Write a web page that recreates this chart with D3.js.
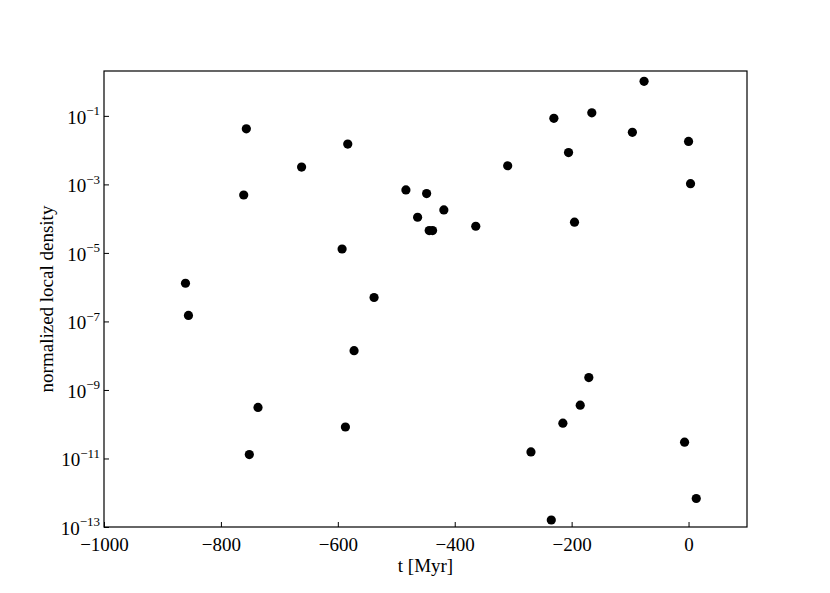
<!DOCTYPE html>
<html lang="en">
<head>
    <meta charset="UTF-8">
    <title>Normalized local density vs time</title>
    <style>
        body { margin: 0; background: #fff; }
        svg text { font-family: "Liberation Serif", "DejaVu Serif", serif; fill: #000; }
    </style>
</head>
<body>
    <div id="chart"></div>
    <script src="https://cdn.jsdelivr.net/npm/d3@7"></script>
    <script>
        // time of each event [Myr]
        const times = [
            -860.6, -855.5, -756.5, -761, -662, -583, -592.7, -538, -483.5, -463.5,
            -448.1, -418.6, -443.7, -437.9, -364, -309.4, -230.4, -165.5, -205.3, -195.1,
            -76.1, -96.1, 0, 3.4, -572.2, -736.5, -587, -751.4, -170.6, -185.3,
            -215, -269.6, -6.8, 13.2, -234.8
        ];
        // normalized local density at that time
        const densities = [
            1.3e-6, 1.5e-7, 4.2e-2, 4.9e-4, 3.2e-3, 1.5e-2, 1.3e-5, 5.0e-7, 6.9e-4, 1.1e-4,
            5.4e-4, 1.8e-4, 4.5e-5, 4.5e-5, 6.0e-5, 3.5e-3, 8.5e-2, 1.23e-1, 8.5e-3, 7.9e-5,
            1.02, 3.3e-2, 1.8e-2, 1.05e-3, 1.4e-8, 3.1e-10, 8.3e-11, 1.3e-11, 2.3e-9, 3.6e-10,
            1.07e-10, 1.55e-11, 3.0e-11, 6.8e-13, 1.6e-13
        ];
        const xTicks = [-1000, -800, -600, -400, -200, 0];
        const yExponents = [-1, -3, -5, -7, -9, -11, -13];

        const width = 830, height = 593;
        const margin = {top: 71, right: 83, bottom: 66, left: 104};

        const x = d3.scaleLinear()
            .domain([-1000, 100])
            .range([margin.left, width - margin.right]);

        const y = d3.scaleLog()
            .domain([1e-13, 2.04])
            .range([height - margin.bottom, margin.top]);

        const svg = d3.select("#chart").append("svg")
            .attr("width", width)
            .attr("height", height);

        const minus = s => String(s).replace("-", "\u2212");

        // bottom axis, ticks pointing inward
        const xAxis = svg.append("g")
            .attr("transform", `translate(0,${height - margin.bottom})`)
            .call(d3.axisBottom(x).tickValues(xTicks).tickSize(-5).tickPadding(10)
                .tickFormat(d => minus(d)));

        // left axis, ticks pointing inward, labels done by hand for superscripts
        const yAxis = svg.append("g")
            .attr("transform", `translate(${margin.left},0)`)
            .call(d3.axisLeft(y).tickValues(yExponents.map(e => Math.pow(10, e)))
                .tickSize(-5).tickFormat(""));

        [xAxis, yAxis].forEach(g => {
            g.select(".domain").remove();
            g.selectAll(".tick line").attr("stroke", "#000").attr("stroke-width", 1);
        });
        xAxis.selectAll(".tick text").attr("font-size", 19).attr("dy", "0.75em");

        yAxis.selectAll(".tick").each(function(d, i) {
            const t = d3.select(this).append("text")
                .attr("x", -4)
                .attr("dy", "0.38em")
                .attr("text-anchor", "end")
                .attr("font-size", 19);
            t.append("tspan").text("10");
            t.append("tspan")
                .attr("font-size", 13)
                .attr("dy", "-0.65em")
                .text(minus(yExponents[i]));
        });

        // frame
        svg.append("rect")
            .attr("x", margin.left)
            .attr("y", margin.top)
            .attr("width", width - margin.left - margin.right)
            .attr("height", height - margin.top - margin.bottom)
            .attr("fill", "none")
            .attr("stroke", "#000")
            .attr("stroke-width", 1.2);

        svg.append("g")
            .selectAll("circle")
            .data(times)
            .join("circle")
            .attr("cx", d => x(d))
            .attr("cy", (d, i) => y(densities[i]))
            .attr("r", 4.6)
            .attr("fill", "#000");

        svg.append("text")
            .attr("x", (margin.left + width - margin.right) / 2)
            .attr("y", 572)
            .attr("text-anchor", "middle")
            .attr("font-size", 19)
            .text("t [Myr]");

        svg.append("text")
            .attr("transform", `translate(53,${(margin.top + height - margin.bottom) / 2}) rotate(-90)`)
            .attr("text-anchor", "middle")
            .attr("font-size", 19)
            .text("normalized local density");
    </script>
</body>
</html>
